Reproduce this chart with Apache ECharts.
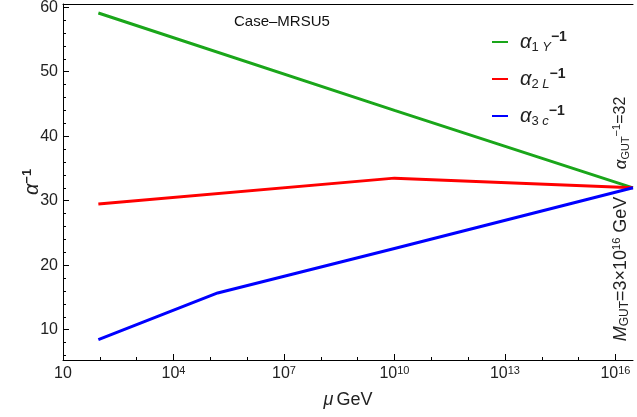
<!DOCTYPE html>
<html>
<head>
<meta charset="utf-8">
<script src="https://cdn.jsdelivr.net/npm/echarts@6/dist/echarts.min.js"></script>
<style>
  html, body { margin: 0; padding: 0; background: #fff; }
  #chart { width: 637px; height: 417px; }
</style>
</head>
<body>
<div id="chart"></div>
<script>
// x values are log10(mu / GeV)
var logMuGreen = [1.96, 10, 16.477];
var alpha1Y = [59.1, 44.0, 32];
var logMuRed = [1.96, 10, 16.477];
var alpha2L = [29.5, 33.5, 32];
var logMuBlue = [1.96, 5.2, 10, 16.477];
var alpha3c = [8.45, 15.7, 22.6, 32];

var xMajor = [1, 4, 7, 10, 13, 16];
var xMinor = [2, 3, 5, 6, 8, 9, 11, 12, 14, 15];
var yMajor = [10, 20, 30, 40, 50, 60];
var yMinor = [6, 8, 12, 14, 16, 18, 22, 24, 26, 28, 32, 34, 36, 38, 42, 44, 46, 48, 52, 54, 56, 58];
var logMGut = 16.477;

function pairs(xs, ys) {
  return xs.map(function (x, i) { return [x, ys[i]]; });
}

var font = '"Liberation Sans", Arial, sans-serif';
var txt = '#222';

var chart = echarts.init(document.getElementById('chart'), null, { renderer: 'canvas' });

var rich = {
  a: { fontFamily: font, fontSize: 20, fontStyle: 'italic', color: txt, lineHeight: 24, padding: [0, 0, 0, 7] },
  s: { fontFamily: font, fontSize: 13, color: txt, lineHeight: 24, verticalAlign: 'bottom' },
  si: { fontFamily: font, fontSize: 13, fontStyle: 'italic', color: txt, lineHeight: 24, verticalAlign: 'bottom' },
  p: { fontFamily: font, fontSize: 14, fontWeight: 'bold', color: txt, lineHeight: 24, verticalAlign: 'top' }
};

var labelRich = {
  sup: { fontFamily: font, fontSize: 11, color: txt, verticalAlign: 'top', lineHeight: 18 },
  b: { fontFamily: font, fontSize: 16, color: txt, lineHeight: 18 }
};

function xTickLabel(v) {
  if (v === 1) return '{b|10}';
  return '{b|10}{sup|' + v + '}';
}

var option = {
  animation: false,
  grid: { left: 63, right: 4, top: 4, bottom: 57, outerBoundsMode: 'none' },
  legend: {
    orient: 'vertical',
    left: 487,
    top: 25,
    itemWidth: 16,
    itemHeight: 2,
    itemGap: 13,
    icon: 'rect',
    data: ['g', 'r', 'b'],
    formatter: function (name) {
      if (name === 'g') return '{a|α}{s|1 }{si|Y}{p|−1}';
      if (name === 'r') return '{a|α}{s|2 }{si|L}{p|−1}';
      return '{a|α}{s|3 }{si|c}{p|−1}';
    },
    textStyle: { rich: rich }
  },
  xAxis: [{
    type: 'value', min: 1, max: logMGut, position: 'bottom',
    name: '{m|μ} {g|GeV}', nameLocation: 'middle', nameGap: 31, nameMoveOverlap: false,
    nameTextStyle: { rich: {
      m: { fontFamily: font, fontSize: 18, fontStyle: 'italic', color: txt },
      g: { fontFamily: font, fontSize: 18, color: txt }
    } },
    axisLine: { lineStyle: { color: '#000', width: 1 } },
    axisTick: { inside: true, length: 6, customValues: xMajor, lineStyle: { color: '#000' } },
    axisLabel: { customValues: xMajor, margin: 5, fontSize: 16, fontFamily: font, color: txt, formatter: xTickLabel, rich: labelRich },
    splitLine: { show: false }
  }, {
    type: 'value', min: 1, max: logMGut, position: 'bottom',
    axisLine: { show: false },
    axisTick: { inside: true, length: 3, customValues: xMinor, lineStyle: { color: '#000' } },
    axisLabel: { show: false },
    splitLine: { show: false }
  }, {
    type: 'value', min: 1, max: logMGut, position: 'top',
    axisLine: { lineStyle: { color: '#000', width: 1 } },
    axisTick: { show: false },
    axisLabel: { show: false },
    splitLine: { show: false }
  }],
  yAxis: [{
    type: 'value', min: 5.3, max: 60.5, position: 'left',
    name: '{a|α}{p|−1}', nameLocation: 'middle', nameGap: 20, nameRotate: 90, nameMoveOverlap: false,
    nameTextStyle: { rich: {
      a: { fontFamily: font, fontSize: 20, fontStyle: 'italic', color: txt, lineHeight: 22 },
      p: { fontFamily: font, fontSize: 13, fontWeight: 'bold', color: txt, lineHeight: 22, verticalAlign: 'top' }
    } },
    axisLine: { lineStyle: { color: '#000', width: 1 } },
    axisTick: { inside: true, length: 6, customValues: yMajor, lineStyle: { color: '#000' } },
    axisLabel: { customValues: yMajor, margin: 5, fontFamily: font, fontSize: 16, color: txt },
    splitLine: { show: false }
  }, {
    type: 'value', min: 5.3, max: 60.5, position: 'left',
    axisLine: { show: false },
    axisTick: { inside: true, length: 3, customValues: yMinor, lineStyle: { color: '#000' } },
    axisLabel: { show: false },
    splitLine: { show: false }
  }],
  series: [{
    name: 'g', type: 'line', symbol: 'none', color: '#1aa61a',
    lineStyle: { width: 3 },
    data: pairs(logMuGreen, alpha1Y),
    markLine: {
      silent: true, symbol: 'none', label: { show: false },
      lineStyle: { color: '#000', type: [3, 3], width: 1 },
      data: [{ xAxis: logMGut }]
    }
  }, {
    name: 'r', type: 'line', symbol: 'none', color: '#ff0000',
    lineStyle: { width: 3 },
    data: pairs(logMuRed, alpha2L)
  }, {
    name: 'b', type: 'line', symbol: 'none', color: '#0000ff',
    lineStyle: { width: 3 },
    data: pairs(logMuBlue, alpha3c)
  }],
  graphic: [{
    type: 'text', left: 234, top: 14,
    style: { text: 'Case\u2013MRSU5', fontFamily: font, fontSize: 15, fill: '#111' }
  }, {
    type: 'text', x: 621, y: 133, rotation: Math.PI / 2,
    style: {
      text: '{a|α}{s|GUT}{p|−1}{n|=32}', align: 'center', verticalAlign: 'middle',
      rich: {
        a: { fontFamily: font, fontSize: 17, fontStyle: 'italic', fill: txt, lineHeight: 20 },
        s: { fontFamily: font, fontSize: 11, fill: txt, lineHeight: 20, verticalAlign: 'bottom' },
        p: { fontFamily: font, fontSize: 11, fill: txt, lineHeight: 20, verticalAlign: 'top' },
        n: { fontFamily: font, fontSize: 16, fill: txt, lineHeight: 20 }
      }
    }
  }, {
    type: 'text', x: 621, y: 269, rotation: Math.PI / 2,
    style: {
      text: '{m|M}{s|GUT}{n|=3×10}{p|16}{n| GeV}', align: 'center', verticalAlign: 'middle',
      rich: {
        m: { fontFamily: font, fontSize: 18, fontStyle: 'italic', fill: txt, lineHeight: 20 },
        s: { fontFamily: font, fontSize: 12, fill: txt, lineHeight: 20, verticalAlign: 'bottom' },
        p: { fontFamily: font, fontSize: 11, fill: txt, lineHeight: 20, verticalAlign: 'top' },
        n: { fontFamily: font, fontSize: 18, fill: txt, lineHeight: 20 }
      }
    }
  }]
};

chart.setOption(option);
</script>
</body>
</html>
